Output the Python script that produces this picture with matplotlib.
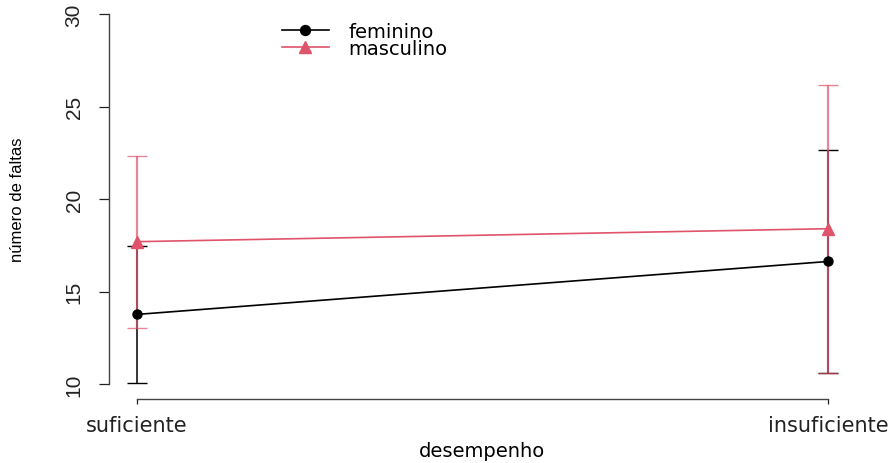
import matplotlib
matplotlib.use("Agg")
import matplotlib.pyplot as plt

# dados
categorias = ["suficiente", "insuficiente"]
fem_media = [13.77, 16.63]
fem_erro = [3.72, 6.0]
mas_media = [17.70, 18.40]
mas_erro = [4.64, 7.77]

cor_fem = "black"
cor_mas = "#DF536B"

plt.rcParams['font.family'] = ['DejaVu Sans']

fig = plt.figure(figsize=(8.93, 4.64), dpi=100)
# regiao do grafico em pixels: x 109.4-855.6, y 0.2-400
W, H = 893, 464
ax = fig.add_axes([109.4 / W, (H - 400) / H, (855.6 - 109.4) / W, (400 - 0.2) / H])

x = [1, 2]

# barras de erro (feminino por baixo, masculino por cima com transparencia)
ax.errorbar(x, fem_media, yerr=fem_erro, fmt="none", ecolor=cor_fem,
            elinewidth=1.1, capsize=7.2, capthick=1.0, zorder=2)
ax.errorbar(x, mas_media, yerr=mas_erro, fmt="none", ecolor=cor_mas, alpha=0.7,
            elinewidth=1.6, capsize=7.2, capthick=1.0, zorder=3)

# linhas com marcadores
ax.plot(x, fem_media, color=cor_fem, lw=1.2, marker="o", markersize=6.5,
        label="feminino", zorder=4)
ax.plot(x, mas_media, color=cor_mas, lw=1.2, marker="^", markersize=8,
        label="masculino", zorder=5)

ax.set_xlim(0.96, 2.04)
ax.set_ylim(9.2, 30.8)

# eixos no estilo do R
for s in ["top", "right"]:
    ax.spines[s].set_visible(False)
ax.spines["left"].set_bounds(10, 30)
ax.spines["bottom"].set_bounds(1, 2)
for s in ["left", "bottom"]:
    ax.spines[s].set_color("#444444")
    ax.spines[s].set_linewidth(1.0)

ax.set_yticks([10, 15, 20, 25, 30])
ax.set_yticklabels(["10", "15", "20", "25", "30"], rotation=90, va="center",
                   family=["Liberation Sans", "DejaVu Sans"], fontsize=15)
ax.tick_params(axis="y", length=7.5, width=0.9, pad=11, colors="#222222")

ax.set_xticks(x)
ax.set_xticklabels(categorias, fontsize=15)
ax.tick_params(axis="x", length=3.5, width=0.9, pad=8, colors="#222222")

ax.set_xlabel("desempenho", fontsize=14, labelpad=4)
ax.set_ylabel("número de faltas", fontsize=12,
              family=["Liberation Sans Narrow", "Liberation Sans", "DejaVu Sans"])
ax.yaxis.set_label_coords(-84 / (855.6 - 109.4), (400 - 200) / 399.8)

ax.legend(loc="upper left", bbox_to_anchor=(282 / W, 1 - 23 / H),
          bbox_transform=fig.transFigure, frameon=False, fontsize=14,
          handlelength=2.4, handletextpad=1.0, labelspacing=-0.1,
          markerscale=1.1, borderpad=0, borderaxespad=0)

fig.savefig("out.png", dpi=100)
